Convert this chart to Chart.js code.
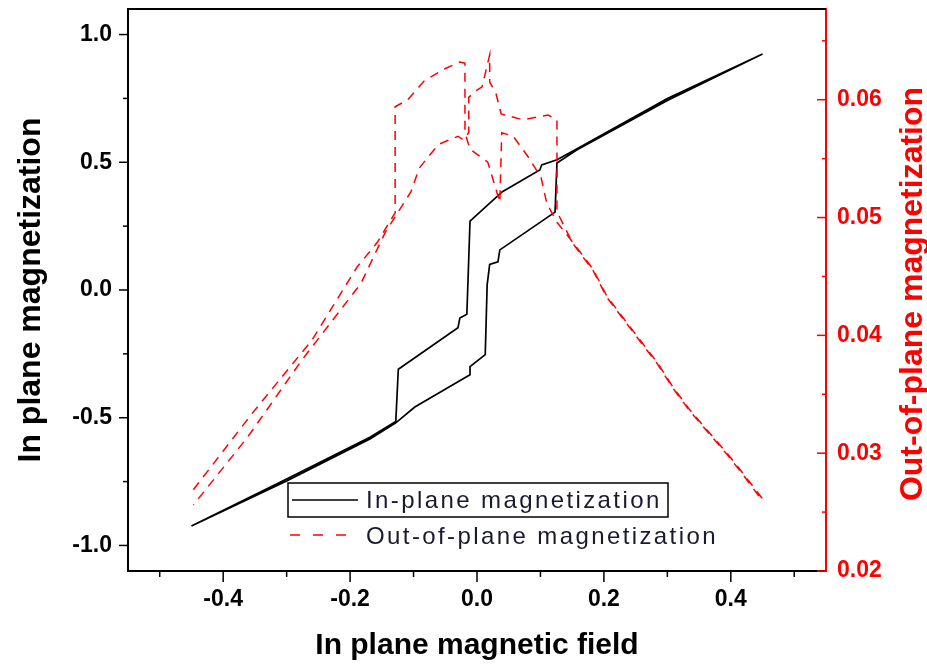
<!DOCTYPE html>
<html>
<head>
<meta charset="utf-8">
<title>In plane / out-of-plane magnetization</title>
<script src="https://cdn.jsdelivr.net/npm/chart.js@4.4.0/dist/chart.umd.min.js"></script>
<style>
  html, body { margin: 0; padding: 0; background: #fff; }
  #wrap { width: 927px; height: 664px; }
</style>
</head>
<body>
<div id="wrap"><canvas id="grafico" width="927" height="664"></canvas></div>
<script>
// In-plane magnetization loop: field sweeping up, then back down
const fieldUp = [-0.450, -0.30, -0.168, -0.128, -0.098, -0.011, -0.011, 0.013, 0.016, 0.020, 0.033, 0.036, 0.123, 0.126, 0.157, 0.30, 0.450];
const inPlaneUp = [-0.924, -0.748, -0.582, -0.520, -0.458, -0.332, -0.300, -0.253, 0.020, 0.100, 0.110, 0.157, 0.305, 0.497, 0.548, 0.742, 0.924];
const fieldDown = [0.450, 0.30, 0.157, 0.126, 0.102, 0.099, 0.040, -0.011, -0.016, -0.027, -0.030, -0.124, -0.128, -0.168, -0.30, -0.450];
const inPlaneDown = [0.924, 0.750, 0.552, 0.510, 0.490, 0.470, 0.385, 0.270, -0.095, -0.110, -0.148, -0.310, -0.515, -0.575, -0.740, -0.924];

// Out-of-plane magnetization (right axis), same two sweeps
const oopFieldUp = [-0.447, -0.354, -0.260, -0.189, -0.157, -0.129, -0.129, -0.109, -0.083, -0.052, -0.027, -0.019, -0.019, -0.011, 0.017, 0.036, 0.039, 0.057, 0.080, 0.101, 0.110, 0.126, 0.151, 0.183, 0.205, 0.233, 0.257, 0.284, 0.309, 0.335, 0.362, 0.394, 0.419, 0.449];
const outOfPlaneUp = [0.0269, 0.0334, 0.0396, 0.0458, 0.0479, 0.0504, 0.0594, 0.0600, 0.0616, 0.0626, 0.0632, 0.0631, 0.0572, 0.0558, 0.0547, 0.0513, 0.0572, 0.0569, 0.0552, 0.0534, 0.0512, 0.0496, 0.0479, 0.0456, 0.0433, 0.0413, 0.0396, 0.0377, 0.0356, 0.0337, 0.0320, 0.0300, 0.0283, 0.0262];
const oopFieldDown = [0.449, 0.419, 0.394, 0.362, 0.335, 0.309, 0.284, 0.257, 0.233, 0.205, 0.183, 0.151, 0.126, 0.126, 0.112, 0.072, 0.038, 0.030, 0.020, 0.020, 0.008, -0.003, -0.013, -0.013, -0.022, -0.030, -0.061, -0.091, -0.104, -0.145, -0.183, -0.276, -0.361, -0.447];
const outOfPlaneDown = [0.0260, 0.0282, 0.0299, 0.0319, 0.0336, 0.0355, 0.0376, 0.0395, 0.0412, 0.0432, 0.0455, 0.0478, 0.0505, 0.0583, 0.0587, 0.0583, 0.0588, 0.0605, 0.0615, 0.0638, 0.0611, 0.0607, 0.0602, 0.0572, 0.0566, 0.0569, 0.0562, 0.0542, 0.0522, 0.0487, 0.0444, 0.0379, 0.0314, 0.0256];

const FONT = "'Liberation Sans', Arial, sans-serif";
Chart.defaults.font.family = FONT;

function pontos(xs, ys) {
    return xs.map((x, i) => ({ x: x, y: ys[i] }));
}

// fixed box sizes, and no extra room for label overhang
function tamanho(largura, altura) {
    return s => {
        if (largura) s.width = largura;
        if (altura) s.height = altura;
        s.paddingTop = 0; s.paddingBottom = 0;
        s.paddingLeft = 0; s.paddingRight = 0;
    };
}

// minor ticks halfway between the labelled ones
function menores(scale) {
    const vals = scale.ticks.map(t => t.value);
    const passo = vals[1] - vals[0];
    const out = [vals[0] - passo / 2];
    vals.forEach(v => out.push(v + passo / 2));
    return out.filter(v => v >= scale.min && v <= scale.max);
}

// frame top, tick marks, right axis title and the legend
const moldura = {
    id: 'moldura',
    afterDraw(chart) {
        const ctx = chart.ctx;
        const area = chart.chartArea;
        const sx = chart.scales.x, sy = chart.scales.y, sy2 = chart.scales.y2;
        ctx.save();

        ctx.strokeStyle = '#000';
        ctx.lineWidth = 2;
        ctx.beginPath();
        ctx.moveTo(area.left - 1, area.top);
        ctx.lineTo(area.right, area.top);
        ctx.stroke();

        ctx.lineWidth = 1.5;
        // bottom axis, ticks pointing out
        sx.ticks.forEach(t => {
            const p = sx.getPixelForValue(t.value);
            ctx.beginPath(); ctx.moveTo(p, area.bottom); ctx.lineTo(p, area.bottom + 11); ctx.stroke();
        });
        menores(sx).forEach(v => {
            const p = sx.getPixelForValue(v);
            ctx.beginPath(); ctx.moveTo(p, area.bottom); ctx.lineTo(p, area.bottom + 6); ctx.stroke();
        });
        // left axis, ticks pointing out
        sy.ticks.forEach(t => {
            const p = sy.getPixelForValue(t.value);
            ctx.beginPath(); ctx.moveTo(area.left, p); ctx.lineTo(area.left - 9, p); ctx.stroke();
        });
        menores(sy).forEach(v => {
            const p = sy.getPixelForValue(v);
            ctx.beginPath(); ctx.moveTo(area.left, p); ctx.lineTo(area.left - 5, p); ctx.stroke();
        });
        // right axis, red, ticks pointing in
        ctx.strokeStyle = '#ff0000';
        sy2.ticks.forEach(t => {
            const p = sy2.getPixelForValue(t.value);
            ctx.beginPath(); ctx.moveTo(area.right, p); ctx.lineTo(area.right - 9, p); ctx.stroke();
        });
        menores(sy2).forEach(v => {
            const p = sy2.getPixelForValue(v);
            ctx.beginPath(); ctx.moveTo(area.right, p); ctx.lineTo(area.right - 4, p); ctx.stroke();
        });

        // right axis title, reading bottom to top
        ctx.fillStyle = '#ff0000';
        ctx.font = 'bold 32px ' + FONT;
        ctx.textAlign = 'center';
        ctx.textBaseline = 'middle';
        ctx.translate(913, (area.top + area.bottom) / 2 + 4);
        ctx.rotate(-Math.PI / 2);
        ctx.fillText('Out-of-plane magnetization', 0, 0);
        ctx.restore();

        // legend
        const ds = chart.data.datasets;
        ctx.save();
        ctx.strokeStyle = '#000';
        ctx.lineWidth = 1.5;
        ctx.strokeRect(288, 483, 380, 34);
        ctx.beginPath(); ctx.moveTo(292, 500); ctx.lineTo(358, 500); ctx.stroke();
        ctx.strokeStyle = '#ff0000';
        ctx.setLineDash([10, 13]);
        ctx.beginPath(); ctx.moveTo(290, 535); ctx.lineTo(350, 535); ctx.stroke();
        ctx.setLineDash([]);
        ctx.fillStyle = '#1a1a2e';
        ctx.font = '24px ' + FONT;
        ctx.letterSpacing = '2.4px';
        ctx.textAlign = 'left';
        ctx.textBaseline = 'alphabetic';
        ctx.fillText(ds[1].label, 366, 508);
        ctx.fillText(ds[0].label, 366, 544);
        ctx.restore();
    }
};

new Chart(document.getElementById('grafico').getContext('2d'), {
    type: 'line',
    data: {
        datasets: [
            {
                label: 'Out-of-plane magnetization',
                data: pontos(oopFieldUp, outOfPlaneUp).concat(pontos(oopFieldDown, outOfPlaneDown)),
                yAxisID: 'y2',
                borderColor: '#ff0000',
                borderWidth: 1.5,
                borderDash: [9, 7],
                pointRadius: 0,
                tension: 0,
                fill: false,
                order: 0
            },
            {
                label: 'In-plane magnetization',
                data: pontos(fieldUp, inPlaneUp).concat(pontos(fieldDown, inPlaneDown)),
                yAxisID: 'y',
                borderColor: '#000',
                borderWidth: 1.7,
                pointRadius: 0,
                tension: 0,
                fill: false,
                order: 1
            }
        ]
    },
    options: {
        responsive: false,
        animation: false,
        layout: { padding: { top: 9, left: 0, right: 0, bottom: 0 } },
        plugins: {
            legend: { display: false },
            tooltip: { enabled: false }
        },
        scales: {
            x: {
                type: 'linear',
                position: 'bottom',
                min: -0.55,
                max: 0.55,
                afterFit: tamanho(0, 93),
                grid: { display: false, drawTicks: false },
                border: { color: '#000', width: 2 },
                ticks: {
                    stepSize: 0.2,
                    includeBounds: false,
                    padding: 15,
                    color: '#000',
                    font: { size: 23, weight: 'bold' },
                    callback: v => v.toFixed(1)
                },
                title: {
                    display: true,
                    text: 'In plane magnetic field',
                    color: '#000',
                    font: { size: 30, weight: 'bold' },
                    padding: { top: 0, bottom: 0 }
                }
            },
            y: {
                position: 'left',
                min: -1.1,
                max: 1.1,
                afterFit: tamanho(128, 0),
                grid: { display: false, drawTicks: false },
                border: { color: '#000', width: 2 },
                ticks: {
                    stepSize: 0.5,
                    includeBounds: false,
                    padding: 16,
                    color: '#000',
                    font: { size: 23, weight: 'bold' },
                    callback: v => v.toFixed(1)
                },
                title: {
                    display: true,
                    text: 'In plane magnetization',
                    color: '#000',
                    font: { size: 32, weight: 'bold' },
                    padding: { top: 12, bottom: 0 }
                }
            },
            y2: {
                position: 'right',
                min: 0.02,
                max: 0.0677,
                afterFit: tamanho(101, 0),
                grid: { display: false, drawTicks: false },
                border: { color: '#ff0000', width: 2 },
                ticks: {
                    stepSize: 0.01,
                    includeBounds: false,
                    padding: 11,
                    color: '#ff0000',
                    font: { size: 23, weight: 'bold' },
                    callback: v => v.toFixed(2)
                }
            }
        }
    },
    plugins: [moldura]
});
</script>
</body>
</html>
